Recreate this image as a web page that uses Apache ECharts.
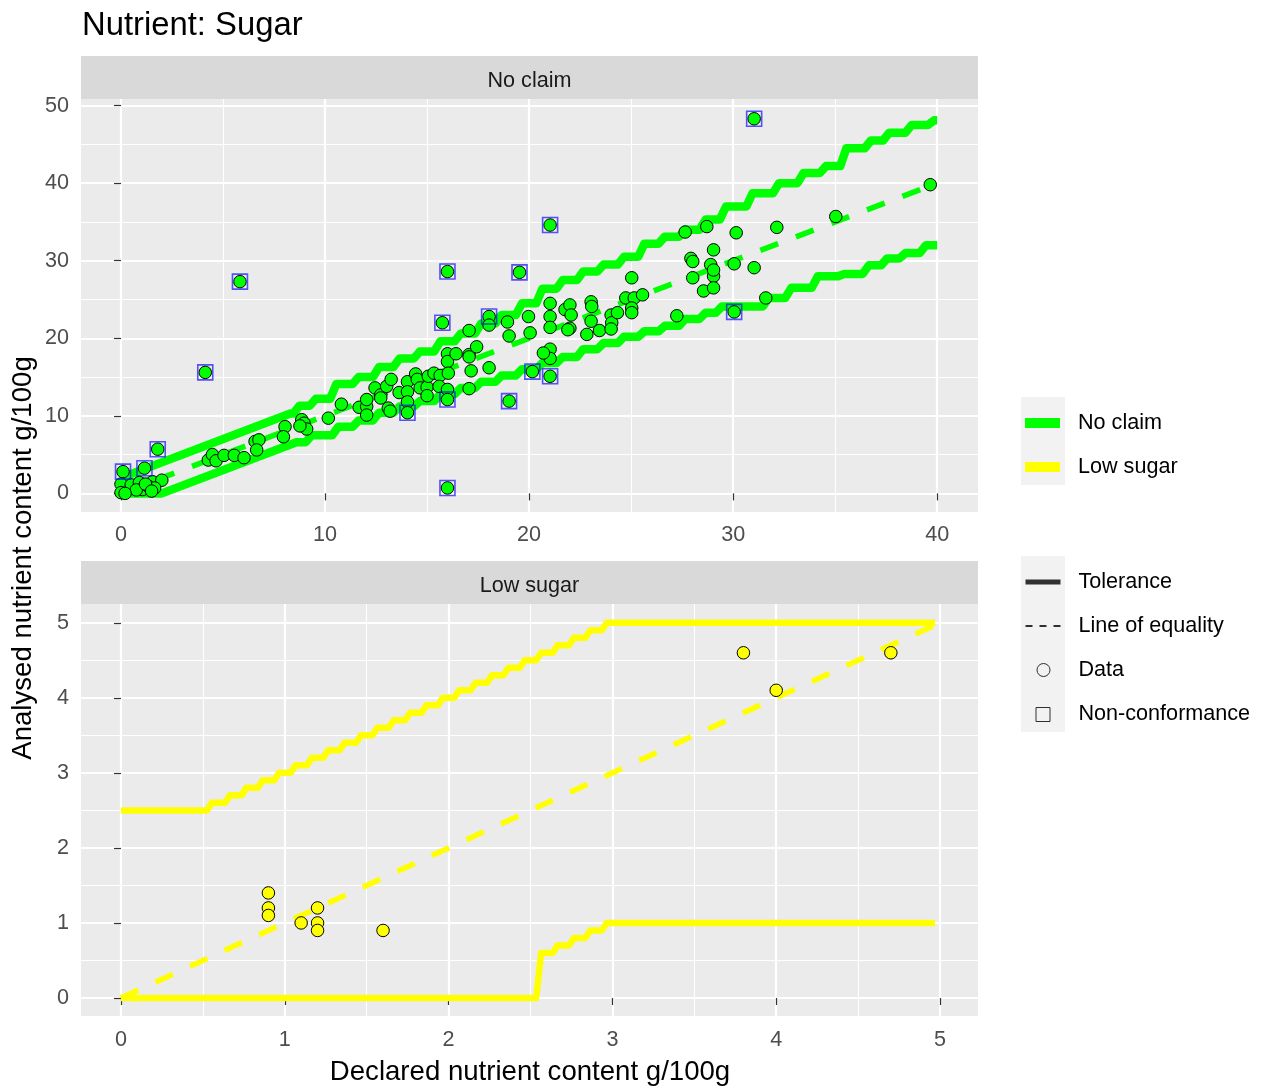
<!DOCTYPE html>
<html><head><meta charset="utf-8">
<script src="https://cdn.jsdelivr.net/npm/echarts@6/dist/echarts.min.js"></script>
<style>html,body{margin:0;padding:0;background:#fff}#c{width:1264px;height:1091px}</style>
</head><body><div id="c"></div>
<script>
const FONT = '"Liberation Sans", Arial, Helvetica, sans-serif';

// ---------- Data: "No claim" panel ----------
const noClaimDeclared = [0.1,1.15,1.8,0.0,0.0,0.5,0.9,1.05,1.55,2.0,0.75,1.35,1.65,0.2,1.2,1.5,
  4.13,5.83,4.28,4.48,4.66,5.05,5.55,6.03,6.57,6.76,6.65,8.04,7.96,8.86,8.97,9.1,8.77,
  10.16,10.8,11.67,12.04,12.04,12.04,12.45,12.73,12.73,13.02,13.24,13.1,13.19,13.63,
  14.04,14.04,14.04,14.04,14.44,14.52,14.66,15.0,15.0,15.06,15.34,15.64,15.59,15.75,
  16.0,16.0,16.04,16.0,16.0,16.0,16.0,16.42,17.06,17.06,17.06,17.16,17.06,17.43,
  18.04,18.04,18.04,18.94,19.02,19.02,19.53,19.97,20.05,20.16,21.03,21.03,21.03,21.03,21.03,21.03,20.7,21.03,
  21.76,22.0,22.06,22.0,21.9,23.04,23.07,23.04,22.83,23.45,24.02,24.05,24.02,24.33,24.74,
  25.03,25.15,25.03,25.03,25.56,27.24,27.65,27.93,28.02,28.02,28.55,28.71,28.9,29.04,29.04,29.04,29.04,
  30.05,30.15,30.05,31.03,31.03,32.14,31.6,35.03,39.66];
const noClaimAnalysed = [2.8,3.25,5.7,1.2,0.1,1.1,1.4,0.5,1.5,1.7,0.45,0.9,0.7,0.0,1.2,0.3,
  15.6,27.3,4.3,5.0,4.2,4.9,4.9,4.6,6.7,6.9,5.6,8.6,7.3,9.5,9.05,8.3,8.7,
  9.7,11.5,11.1,11.2,10.1,12.1,13.6,12.7,12.3,13.8,14.7,11.0,10.6,13.0,
  14.4,13.1,11.8,10.4,15.4,14.7,13.6,13.7,12.6,15.1,15.5,15.2,13.8,22.0,
  18.0,17.0,15.5,13.4,12.1,28.6,0.7,18.0,21.0,17.9,17.6,15.8,13.5,18.9,
  22.8,21.7,16.2,22.1,20.3,11.9,28.5,22.8,20.7,15.7,24.5,22.8,21.4,18.6,17.4,15.1,18.1,34.6,
  23.7,24.3,23.0,21.3,21.1,24.7,24.1,22.2,20.5,21.0,23.0,22.0,21.2,23.3,25.2,
  27.8,25.2,23.9,23.3,25.6,22.9,33.7,30.3,29.9,27.8,26.1,34.4,29.5,31.4,28.0,26.5,28.8,
  29.6,33.6,23.4,29.1,48.3,34.3,25.2,35.7,39.8];
// Non-conformance (outside tolerance) in "No claim"
const noClaimNonConfDeclared = [0.1,1.15,1.8,4.13,5.83,14.04,15.75,16.0,16.0,16.0,18.04,19.02,19.53,20.16,21.03,21.03,30.05,31.03];
const noClaimNonConfAnalysed = [2.8,3.25,5.7,15.6,27.3,10.4,22.0,12.1,28.6,0.7,22.8,11.9,28.5,15.7,15.1,34.6,23.4,48.3];

// Tolerance limits "No claim": straight part then stepped part (riser x, new level)
const ncUpperLineX = [0, 8.3];
const ncUpperLineY = [2.0, 10.3];
const ncUpperStepX = [8.6,9.4,10.4,11.5,12.5,13.5,14.5,15.5,16.5,17.5,18.5,19.5,20.5,21.5,22.5,23.5,24.5,25.5,26.5,27.5,28.5,29.5,30.8,32.1,33.3,34.4,35.4,36.6,37.5,38.6,39.7];
const ncUpperStepY = [11.3,12.2,14.1,15.0,16.3,17.4,18.3,19.6,20.6,21.9,23.0,24.5,26.4,27.5,28.6,29.5,30.5,32.2,33.1,34.0,35.3,37.0,38.7,40.0,41.3,42.2,44.5,45.5,46.5,47.5,48.1];
const ncLowerLineX = [0, 2.0, 8.6];
const ncLowerLineY = [0, 0, 6.6];
const ncLowerStepX = [9.2,10.5,11.5,12.5,13.5,14.5,15.5,16.5,17.5,18.5,19.5,20.5,21.5,22.5,23.5,24.5,25.5,26.5,27.5,28.5,29.3,31.6,32.7,34.0,35.3,36.5,37.4,38.3,39.3];
const ncLowerStepY = [7.5,8.6,9.4,10.4,11.2,11.9,12.8,13.6,14.4,15.2,16.0,16.8,17.6,18.6,19.4,20.2,20.9,21.6,22.5,23.3,24.1,25.2,26.5,28.0,28.3,29.4,30.3,31.0,32.0];
const ncLineEnd = 40;
const ncEquality = [0, 40];

// ---------- Data: "Low sugar" panel ----------
const lowSugarDeclared = [0.9,0.9,0.9,1.1,1.2,1.2,1.2,1.6,3.8,4.0,4.7];
const lowSugarAnalysed = [1.4,1.2,1.1,1.0,1.2,1.0,0.9,0.9,4.6,4.1,4.6];
const lsUpperLineX = [0];
const lsUpperLineY = [2.5];
const lsUpperStepX = [0.54,0.65,0.75,0.85,0.95,1.05,1.15,1.25,1.35,1.45,1.55,1.65,1.75,1.85,1.95,2.05,2.15,2.25,2.35,2.45,2.55,2.65,2.75,2.85,2.95];
const lsUpperStepY = [2.6,2.7,2.8,2.9,3.0,3.1,3.2,3.3,3.4,3.5,3.6,3.7,3.8,3.9,4.0,4.1,4.2,4.3,4.4,4.5,4.6,4.7,4.8,4.9,5.0];
const lsLowerLineX = [0];
const lsLowerLineY = [0];
const lsLowerStepX = [2.55,2.65,2.75,2.85,2.95];
const lsLowerStepY = [0.6,0.7,0.8,0.9,1.0];
const lsLineEnd = 4.97;
const lsEquality = [0, 4.97];

// ---------- Axis ticks ----------
const topXMajor = [0,10,20,30,40], topXMinor = [5,15,25,35];
const topYMajor = [0,10,20,30,40,50], topYMinor = [5,15,25,35,45];
const botXMajor = [0,1,2,3,4,5], botXMinor = [0.5,1.5,2.5,3.5,4.5];
const botYMajor = [0,1,2,3,4,5], botYMinor = [0.5,1.5,2.5,3.5,4.5];

function tolerance(lx, ly, sx, sy, endX, half) {
  const pts = lx.map((x, i) => [x, ly[i]]);
  let level = ly[ly.length - 1];
  sx.forEach((x, i) => { pts.push([x - half, level]); pts.push([x + half, sy[i]]); level = sy[i]; });
  pts.push([endX, level]);
  return pts;
}
const zip = (a, b) => a.map((v, i) => [v, b[i]]);

const GREEN = '#00ff00', YELLOW = '#ffff00';
const tickLabel = { color: '#4d4d4d', fontSize: 21.6, fontFamily: FONT };

function majorX(grid, min, max, vals, margin) {
  return { gridIndex: grid, type: 'value', min, max, position: 'bottom',
    axisLine: { show: false },
    axisTick: { show: true, length: 7, lineStyle: { color: '#333333', width: 1.2 }, customValues: vals },
    axisLabel: Object.assign({ margin, customValues: vals }, tickLabel),
    splitLine: { show: true, lineStyle: { color: '#ffffff', width: 2.2 } } };
}
function minorX(grid, min, max, vals) {
  return { gridIndex: grid, type: 'value', min, max, position: 'top',
    axisLine: { show: false }, axisTick: { show: false, customValues: vals },
    axisLabel: { show: false, customValues: vals },
    splitLine: { show: true, lineStyle: { color: '#ffffff', width: 1.1 } } };
}
function majorY(grid, min, max, vals) {
  return { gridIndex: grid, type: 'value', min, max, position: 'left',
    axisLine: { show: false },
    axisTick: { show: true, length: 7, lineStyle: { color: '#333333', width: 1.2 }, customValues: vals },
    axisLabel: Object.assign({ margin: 12, customValues: vals, padding: [4, 0, 0, 0] }, tickLabel),
    splitLine: { show: true, lineStyle: { color: '#ffffff', width: 2.2 } } };
}
function minorY(grid, min, max, vals) {
  return { gridIndex: grid, type: 'value', min, max, position: 'right',
    axisLine: { show: false }, axisTick: { show: false, customValues: vals },
    axisLabel: { show: false, customValues: vals },
    splitLine: { show: true, lineStyle: { color: '#ffffff', width: 1.1 } } };
}

const TOP = { xMin: -1.96, xMax: 42.0, yMin: -2.4, yMax: 50.85 };
const BOT = { xMin: -0.244, xMax: 5.232, yMin: -0.24, yMax: 5.25 };

const tolLine = (name, data, xi, color, w) => ({
  name, type: 'line', xAxisIndex: xi, yAxisIndex: xi, data, symbol: 'none', silent: true, z: 2,
  lineStyle: { color, width: w, cap: 'butt', join: 'round' }, itemStyle: { color } });
const eqLine = (name, ends, xi, color) => ({
  name, type: 'line', xAxisIndex: xi, yAxisIndex: xi, data: [[ends[0], ends[0]], [ends[1], ends[1]]],
  symbol: 'none', silent: true, z: 2,
  lineStyle: { color, width: 5.5, type: [19, 19], cap: 'butt' }, itemStyle: { color } });
const pts = (name, data, xi, color) => ({
  name, type: 'scatter', xAxisIndex: xi, yAxisIndex: xi, data, symbol: 'circle', symbolSize: 12.5, z: 3,
  itemStyle: { color, borderColor: '#000000', borderWidth: 1, opacity: 1 } });

const option = {
  animation: false,
  backgroundColor: '#ffffff',
  textStyle: { fontFamily: FONT },
  grid: [
    { left: 81, top: 99, width: 897, height: 413, show: true, backgroundColor: '#ebebeb', borderWidth: 0 },
    { left: 81, top: 604, width: 897, height: 412, show: true, backgroundColor: '#ebebeb', borderWidth: 0 }
  ],
  xAxis: [
    majorX(0, TOP.xMin, TOP.xMax, topXMajor, 12), minorX(0, TOP.xMin, TOP.xMax, topXMinor),
    majorX(1, BOT.xMin, BOT.xMax, botXMajor, 13), minorX(1, BOT.xMin, BOT.xMax, botXMinor)
  ],
  yAxis: [
    majorY(0, TOP.yMin, TOP.yMax, topYMajor), minorY(0, TOP.yMin, TOP.yMax, topYMinor),
    majorY(1, BOT.yMin, BOT.yMax, botYMajor), minorY(1, BOT.yMin, BOT.yMax, botYMinor)
  ],
  legend: [
    { orient: 'vertical', left: 1021, top: 412, padding: 0, itemWidth: 43, itemHeight: 10, itemGap: 22,
      symbolKeepAspect: false, selectedMode: false, z: 10,
      textStyle: { color: '#000000', fontSize: 21.6, fontFamily: FONT, lineHeight: 22, padding: [0, 0, 0, 9] },
      data: [
        { name: 'No claim', icon: 'path://M0,0M43,10M4,0H39V10H4Z', itemStyle: { color: GREEN, borderWidth: 0 } },
        { name: 'Low sugar', icon: 'path://M0,0M43,10M4,0H39V10H4Z', itemStyle: { color: YELLOW, borderWidth: 0 } }
      ] },
    { orient: 'vertical', left: 1021, top: 571, padding: 0, itemWidth: 43, itemHeight: 16, itemGap: 22,
      symbolKeepAspect: false, selectedMode: false, z: 10,
      textStyle: { color: '#000000', fontSize: 21.6, fontFamily: FONT, lineHeight: 22, padding: [0, 0, 0, 9] },
      data: [
        { name: 'Tolerance', icon: 'path://M0,0M43,16M4,5.5H39V10.5H4Z', itemStyle: { color: '#000000', borderWidth: 0 } },
        { name: 'Line of equality', icon: 'path://M0,0M43,16M4,7H11V9H4ZM18,7H25V9H18ZM32,7H39V9H32Z', itemStyle: { color: '#000000', borderWidth: 0 } },
        { name: 'Data', icon: 'path://M0,0M43,16M28.5,8A6.5,6.5,0,1,1,15.5,8A6.5,6.5,0,1,1,28.5,8Z', itemStyle: { color: 'rgba(0,0,0,0)', borderColor: '#000000', borderWidth: 1 } },
        { name: 'Non-conformance', icon: 'path://M0,0M43,16M14.5,1.5H28.5V15.5H14.5Z', itemStyle: { color: 'rgba(0,0,0,0)', borderColor: '#000000', borderWidth: 1 } }
      ] }
  ],
  graphic: [
    { type: 'text', x: 82, y: 26, z: 1, style: { text: 'Nutrient: Sugar', font: '32.8px ' + FONT, fill: '#000000', align: 'left', verticalAlign: 'middle' } },
    { type: 'rect', shape: { x: 81, y: 56, width: 897, height: 43 }, z: 1, style: { fill: '#d9d9d9' } },
    { type: 'text', x: 529.5, y: 81, z: 2, style: { text: 'No claim', font: '21.6px ' + FONT, fill: '#1a1a1a', align: 'center', verticalAlign: 'middle' } },
    { type: 'rect', shape: { x: 81, y: 561, width: 897, height: 43 }, z: 1, style: { fill: '#d9d9d9' } },
    { type: 'text', x: 529.5, y: 586, z: 2, style: { text: 'Low sugar', font: '21.6px ' + FONT, fill: '#1a1a1a', align: 'center', verticalAlign: 'middle' } },
    { type: 'text', x: 530, y: 1072, z: 2, style: { text: 'Declared nutrient content g/100g', font: '27.6px ' + FONT, fill: '#000000', align: 'center', verticalAlign: 'middle' } },
    { type: 'text', x: 23, y: 558, rotation: Math.PI / 2, z: 2, style: { text: 'Analysed nutrient content g/100g', font: '27.6px ' + FONT, fill: '#000000', align: 'center', verticalAlign: 'middle' } },
    { type: 'rect', shape: { x: 1021, y: 397, width: 44, height: 88 }, z: 0, style: { fill: '#f2f2f2' } },
    { type: 'rect', shape: { x: 1021, y: 556, width: 44, height: 176 }, z: 0, style: { fill: '#f2f2f2' } }
  ],
  series: [
    tolLine('No claim', tolerance(ncUpperLineX, ncUpperLineY, ncUpperStepX, ncUpperStepY, ncLineEnd, 0.15), 0, GREEN, 8.5),
    tolLine('No claim', tolerance(ncLowerLineX, ncLowerLineY, ncLowerStepX, ncLowerStepY, ncLineEnd, 0.15), 0, GREEN, 8.5),
    eqLine('No claim', ncEquality, 0, GREEN),
    pts('No claim', zip(noClaimDeclared, noClaimAnalysed), 0, GREEN),
    { name: 'Non-conformance', type: 'scatter', xAxisIndex: 0, yAxisIndex: 0, z: 4,
      data: zip(noClaimNonConfDeclared, noClaimNonConfAnalysed), symbol: 'rect', symbolSize: 15,
      itemStyle: { color: 'rgba(0,0,0,0)', borderColor: 'rgba(10,10,255,0.85)', borderWidth: 1.6 } },

    tolLine('Low sugar', tolerance(lsUpperLineX, lsUpperLineY, lsUpperStepX, lsUpperStepY, lsLineEnd, 0.015), 2, YELLOW, 6.5),
    tolLine('Low sugar', tolerance(lsLowerLineX, lsLowerLineY, lsLowerStepX, lsLowerStepY, lsLineEnd, 0.015), 2, YELLOW, 6.5),
    eqLine('Low sugar', lsEquality, 2, YELLOW),
    pts('Low sugar', zip(lowSugarDeclared, lowSugarAnalysed), 2, YELLOW),

    { name: 'Tolerance', type: 'scatter', xAxisIndex: 0, yAxisIndex: 0, data: [] },
    { name: 'Line of equality', type: 'scatter', xAxisIndex: 0, yAxisIndex: 0, data: [] },
    { name: 'Data', type: 'scatter', xAxisIndex: 0, yAxisIndex: 0, data: [] }
  ]
};

const chart = echarts.init(document.getElementById('c'), null, { renderer: 'canvas', width: 1264, height: 1091 });
chart.setOption(option);
</script>
</body></html>
